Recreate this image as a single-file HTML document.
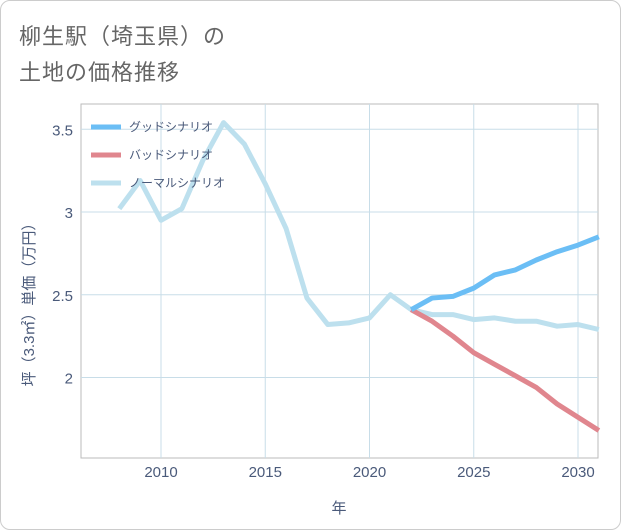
<!DOCTYPE html>
<html><head><meta charset="utf-8"><style>
body{margin:0;background:#fff;font-family:"Liberation Sans","Noto Sans CJK JP",sans-serif}
#card{position:absolute;left:0;top:0;width:619px;height:528px;border:1px solid #ccc;border-radius:10px;background:#fff}
.t{position:absolute;left:18px;font-size:22px;color:#666;letter-spacing:1px}
</style></head><body>
<div id="card">
<div class="t" style="top:18px">柳生駅（埼玉県）の</div>
<div class="t" style="top:54px">土地の価格推移</div>
<svg id="c" width="621" height="530" style="position:absolute;left:0;top:0"></svg>
</div>
<script>
const years=[2008,2009,2010,2011,2012,2013,2014,2015,2016,2017,2018,2019,2020,2021,2022,2023,2024,2025,2026,2027,2028,2029,2030,2031];
const normal=[3.02,3.19,2.95,3.02,3.31,3.54,3.41,3.17,2.90,2.48,2.32,2.33,2.36,2.50,2.41,2.38,2.38,2.35,2.36,2.34,2.34,2.31,2.32,2.29];
const futureYears=[2022,2023,2024,2025,2026,2027,2028,2029,2030,2031];
const good=[2.41,2.48,2.49,2.54,2.62,2.65,2.71,2.76,2.80,2.85];
const bad=[2.41,2.34,2.25,2.15,2.08,2.01,1.94,1.84,1.76,1.68];
const xTicks=[2010,2015,2020,2025,2030];
const yTicks=[2,2.5,3,3.5];
const L=80,R=597,T=103,B=457;
const x=v=>160+(v-2010)*20.85;
const y=v=>211-(v-3)*165.5;
const s=document.getElementById('c');const NS='http://www.w3.org/2000/svg';
function mk(t,a,txt){const e=document.createElementNS(NS,t);for(const k in a)e.setAttribute(k,a[k]);if(txt!==undefined)e.textContent=txt;s.appendChild(e);return e;}
const bg=mk('rect',{x:L,y:T,width:R-L,height:B-T,fill:'#fff',stroke:'#bbb'});


xTicks.forEach(v=>{const g=mk('line',{x1:x(v),x2:x(v),y1:T,y2:B,stroke:'#c8dde8'});


const t=mk('text',{x:x(v),y:476,'text-anchor':'middle','font-size':15,fill:'#4a5a7a'},v);

});
yTicks.forEach(v=>{const g=mk('line',{x1:L,x2:R,y1:y(v),y2:y(v),stroke:'#c8dde8'});


const t=mk('text',{x:72,y:y(v)+6,'text-anchor':'end','font-size':15,fill:'#4a5a7a'},v);

});
const xt=mk('text',{x:338,y:512,'text-anchor':'middle','font-size':15,fill:'#4a5a7a'},'年');


const yt=mk('text',{x:0,y:0,'text-anchor':'middle','font-size':15,fill:'#4a5a7a',transform:'translate(33,300) rotate(-90)'},'坪（3.3㎡）単価（万円）');


function line(xs,vs,c,n){const p=mk('polyline',{points:xs.map((v,i)=>x(v)+','+y(vs[i])).join(' '),fill:'none',stroke:c,'stroke-width':5,'stroke-linejoin':'round'});

}
line(years,normal,'#bde0ee','normal-series-line');
line(futureYears,bad,'#e0868e','bad-series-line');
line(futureYears,good,'#6bbef5','good-series-line');
[['グッドシナリオ','#6bbef5'],['バッドシナリオ','#e0868e'],['ノーマルシナリオ','#bde0ee']].forEach((d,i)=>{
const yy=126+i*28;
const l=mk('line',{x1:90,x2:120,y1:yy,y2:yy,stroke:d[1],'stroke-width':5});


const t=mk('text',{x:128,y:yy+4,'font-size':12,fill:'#4a5a7a'},d[0]);

});
</script>
</body></html>
